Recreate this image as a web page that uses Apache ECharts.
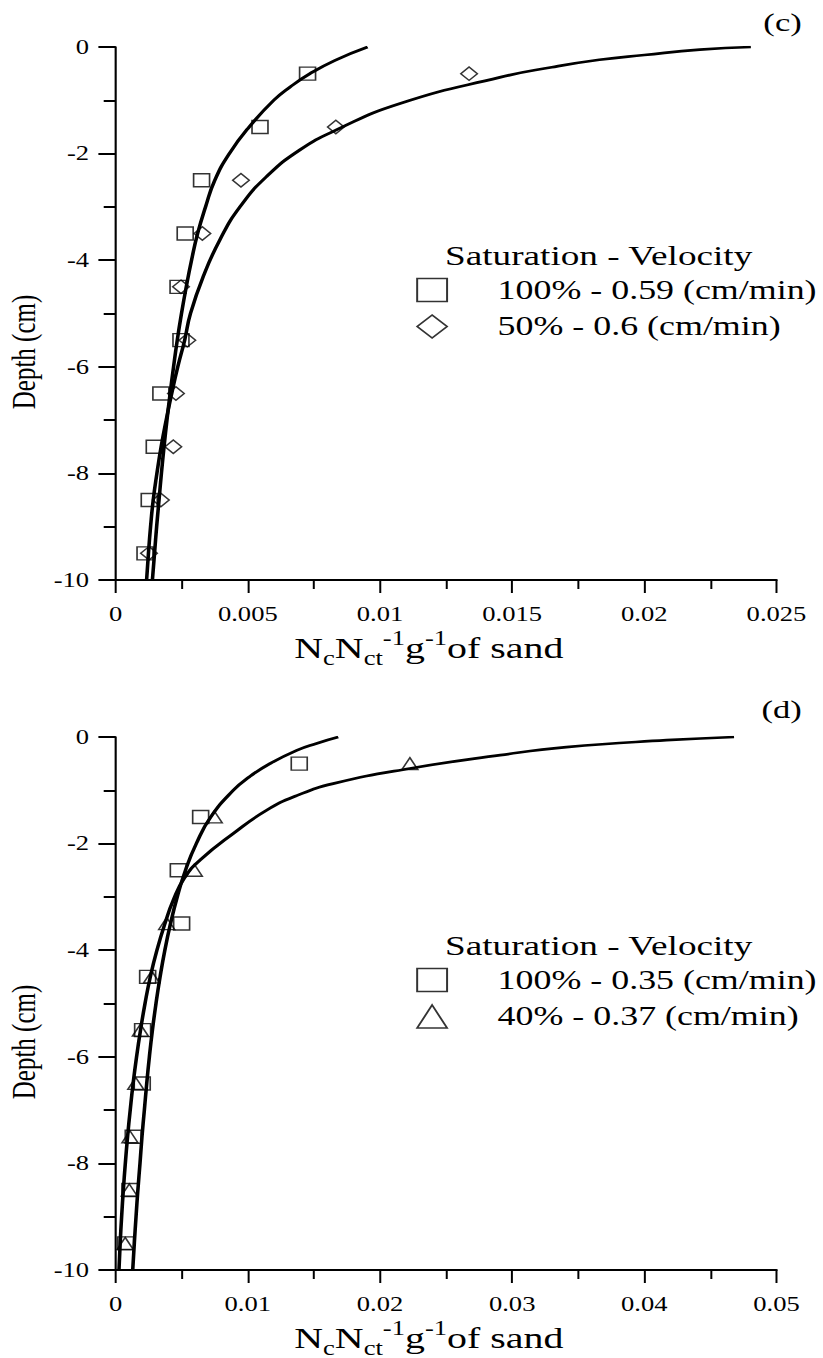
<!DOCTYPE html>
<html><head><meta charset="utf-8">
<script src="https://cdn.jsdelivr.net/npm/echarts@6/dist/echarts.min.js"></script>
<style>
html,body{margin:0;padding:0;background:#fff;overflow:hidden;}
#wrap{width:823px;height:1358px;overflow:hidden;background:#fff;}
#chart{width:619px;height:1358px;transform:scaleX(1.3296);transform-origin:0 0;}
</style></head><body><div id="wrap"><div id="chart"></div></div>
<script>
// ---------- data ----------
const depthLevels = [-0.5, -1.5, -2.5, -3.5, -4.5, -5.5, -6.5, -7.5, -8.5, -9.5];

// panel (c)
const nameC100 = '100% - 0.59 (cm/min)';
const nameC50 = '50% - 0.6 (cm/min)';
const sat100c = [0.00726, 0.00546, 0.00325, 0.00263, 0.00236, 0.00247, 0.00171, 0.00146, 0.00127, 0.00111];
const sat50c  = [0.01337, 0.00833, 0.00474, 0.00328, 0.00247, 0.00271, 0.00228, 0.00218, 0.00171, 0.00126];
const fit100c = [[0.00953,0],[0.0083,-0.25],[0.00735,-0.5],[0.0066,-0.75],[0.00598,-1.0],[0.00505,-1.5],
  [0.0043,-2.0],[0.00375,-2.5],[0.0034,-3.0],[0.0031,-3.5],[0.00287,-4.0],[0.00267,-4.5],[0.00249,-5.0],
  [0.00233,-5.5],[0.00219,-6.0],[0.00206,-6.5],[0.00194,-7.0],[0.00183,-7.5],[0.00173,-8.0],[0.00164,-8.5],
  [0.00155,-9.0],[0.00147,-9.5],[0.00139,-10]];
const fit50c = [[0.02403,0],[0.0221,-0.05],[0.02,-0.15],[0.0183,-0.24],[0.0165,-0.38],[0.01453,-0.57],
  [0.01076,-1.06],[0.00833,-1.56],[0.00697,-1.93],[0.00571,-2.43],[0.0047,-3.0],[0.00394,-3.62],[0.00331,-4.31],
  [0.00283,-5.0],[0.00261,-5.5],[0.00235,-6.0],[0.00212,-6.5],[0.00191,-7.0],[0.00172,-7.5],[0.00156,-8.0],
  [0.00142,-8.5],[0.00132,-9.0],[0.00124,-9.5],[0.00117,-10]];

// panel (d)
const nameD100 = '100% - 0.35 (cm/min)';
const nameD40 = '40% - 0.37 (cm/min)';
const sat100d = [0.01389, 0.00643, 0.00474, 0.00499, 0.00242, 0.00204, 0.00201, 0.00133, 0.00108, 0.00076];
const sat40d  = [0.02226, 0.00746, 0.00595, 0.00386, 0.00272, 0.00187, 0.00152, 0.00108, 0.00103, 0.00072];
const fit100d = [[0.01684,0],[0.0152,-0.12],[0.0137,-0.25],[0.01167,-0.5],[0.0101,-0.75],[0.0089,-1.0],
  [0.0072,-1.5],[0.0061,-2.0],[0.00528,-2.5],[0.00466,-3.0],[0.00415,-3.5],[0.00372,-4.0],[0.00336,-4.5],
  [0.00305,-5.0],[0.00278,-5.5],[0.00255,-6.0],[0.00235,-6.5],[0.00217,-7.0],[0.00199,-7.5],[0.00184,-8.0],
  [0.00168,-8.5],[0.00154,-9.0],[0.00141,-9.5],[0.00129,-10]];
const fit40d = [[0.04679,0],[0.04168,-0.06],[0.0341,-0.19],[0.0291,-0.34],[0.02226,-0.59],[0.01646,-0.875],
  [0.0137,-1.1],[0.01142,-1.375],[0.0089,-1.81],[0.00638,-2.31],[0.00524,-2.63],[0.00436,-3.06],[0.00373,-3.5],
  [0.00312,-4.0],[0.00262,-4.5],[0.00222,-5.0],[0.00188,-5.5],[0.00158,-6.0],[0.00132,-6.5],[0.0011,-7.0],
  [0.0009,-7.5],[0.00073,-8.0],[0.00058,-8.5],[0.00045,-9.0],[0.00034,-9.5],[0.00025,-10]];

// ticks
const xTicksC = [0, 0.005, 0.01, 0.015, 0.02, 0.025];
const xLabelsC = ['0', '0.005', '0.01', '0.015', '0.02', '0.025'];
const xTicksD = [0, 0.01, 0.02, 0.03, 0.04, 0.05];
const xLabelsD = ['0', '0.01', '0.02', '0.03', '0.04', '0.05'];
const yTicks = [-10, -8, -6, -4, -2, 0];
const yLabels = ['-10', '-8', '-6', '-4', '-2', '0'];

const legendTitle = 'Saturation - Velocity';
const panelC = '(c)', panelD = '(d)';
const yName = 'Depth (cm)';
const xNameRich = '{n|N}{sub|c}{n|N}{sub|ct}{sup|-1}{n|g}{sup|-1}{n|of sand}';

// ---------- helpers ----------
const FONT = '"Liberation Serif", "Times New Roman", serif';
function fmt(ticks, labels) {
  return v => { const i = ticks.findIndex(t => Math.abs(t - v) < 1e-9); return i >= 0 ? labels[i] : ''; };
}
function xAxisCfg(gi, ticks, labels) {
  return {
    type: 'value', gridIndex: gi,
    min: ticks[0], max: ticks[ticks.length - 1], interval: ticks[1] - ticks[0],
    name: xNameRich, nameLocation: 'middle', nameGap: 48, nameMoveOverlap: false,
    nameTextStyle: {
      color: '#000', fontFamily: FONT, padding: [0, 26, 0, 0],
      rich: {
        n: { fontSize: 30, lineHeight: 40, fontFamily: FONT, color: '#000', verticalAlign: 'middle' },
        sub: { fontSize: 20, lineHeight: 25, fontFamily: FONT, color: '#000', verticalAlign: 'bottom' },
        sup: { fontSize: 20, lineHeight: 20, fontFamily: FONT, color: '#000', verticalAlign: 'top' }
      }
    },
    axisLine: { show: true, onZero: false, lineStyle: { color: '#000', width: 2 } },
    axisTick: { show: true, inside: false, length: 13, lineStyle: { color: '#000', width: 1.5 } },
    minorTick: { show: true, splitNumber: 2, length: 9, lineStyle: { color: '#000', width: 1.5 } },
    splitLine: { show: false }, minorSplitLine: { show: false },
    axisLabel: { show: true, margin: 24, color: '#000', fontFamily: FONT, fontSize: 20,
      showMinLabel: true, showMaxLabel: true, formatter: fmt(ticks, labels) }
  };
}
function yAxisCfg(gi) {
  return {
    type: 'value', gridIndex: gi,
    min: yTicks[0], max: yTicks[yTicks.length - 1], interval: yTicks[1] - yTicks[0],
    name: yName, nameLocation: 'middle', nameGap: 57, nameMoveOverlap: false,
    nameTextStyle: { color: '#000', fontFamily: FONT, fontSize: 25, lineHeight: 25, padding: [0, 77, 0, 0] },
    axisLine: { show: true, onZero: false, lineStyle: { color: '#000', width: 1.6 } },
    axisTick: { show: true, inside: false, length: 13, lineStyle: { color: '#000', width: 2 } },
    minorTick: { show: true, splitNumber: 2, length: 9, lineStyle: { color: '#000', width: 2 } },
    splitLine: { show: false }, minorSplitLine: { show: false },
    axisLabel: { show: true, margin: 20, color: '#000', fontFamily: FONT, fontSize: 20,
      showMinLabel: true, showMaxLabel: true, formatter: fmt(yTicks, yLabels) }
  };
}
function scatter(name, gi, xs, symbol, size) {
  return {
    type: 'scatter', name, xAxisIndex: gi, yAxisIndex: gi,
    data: depthLevels.map((d, i) => [xs[i], d]),
    symbol, symbolSize: size,
    itemStyle: { color: 'rgba(255,255,255,0)', borderColor: '#000', borderWidth: 1.3 },
    emphasis: { disabled: true }, z: 3
  };
}
function fitLine(gi, pts) {
  return {
    type: 'line', xAxisIndex: gi, yAxisIndex: gi, data: pts,
    showSymbol: false, symbol: 'none', smooth: 0.5, silent: true,
    lineStyle: { color: '#000', width: 2.7 }, emphasis: { disabled: true }, z: 4
  };
}
function legendCfg(top, names) {
  return {
    show: true, orient: 'vertical', left: 313, top, padding: 0,
    itemWidth: 22.5, itemHeight: 23, itemGap: 6.5, selectedMode: false,
    data: names,
    itemStyle: { color: 'rgba(255,255,255,0)', borderColor: '#000', borderWidth: 1.5 },
    textStyle: { color: '#000', fontFamily: FONT, fontSize: 27, lineHeight: 30, padding: [0, 0, 0, 33] }
  };
}
function txt(x, y, text, size, align) {
  return { type: 'text', x, y, silent: true,
    style: { text, fontSize: size, fontFamily: FONT, fill: '#000', align, verticalAlign: 'middle' } };
}

const chart = echarts.init(document.getElementById('chart'), null, { renderer: 'svg' });
chart.setOption({
  animation: false,
  backgroundColor: '#fff',
  grid: [
    { left: 87, right: 35, top: 47, height: 533, containLabel: false, outerBoundsMode: 'none' },
    { left: 87, right: 35, top: 737, height: 533, containLabel: false, outerBoundsMode: 'none' }
  ],
  xAxis: [xAxisCfg(0, xTicksC, xLabelsC), xAxisCfg(1, xTicksD, xLabelsD)],
  yAxis: [yAxisCfg(0), yAxisCfg(1)],
  legend: [legendCfg(275, [nameC100, nameC50]), legendCfg(965, [nameD100, nameD40])],
  tooltip: { show: false },
  graphic: [
    txt(603, 22, panelC, 26, 'right'),
    txt(603, 709, panelD, 26, 'right'),
    txt(334.7, 255.5, legendTitle, 28, 'left'),
    txt(334.7, 945.5, legendTitle, 28, 'left')
  ],
  series: [
    scatter(nameC100, 0, sat100c, 'rect', [12, 13]),
    scatter(nameC50, 0, sat50c, 'diamond', [12.5, 13.5]),
    fitLine(0, fit100c), fitLine(0, fit50c),
    scatter(nameD100, 1, sat100d, 'rect', [12, 13]),
    scatter(nameD40, 1, sat40d, 'triangle', [12, 12]),
    fitLine(1, fit100d), fitLine(1, fit40d)
  ]
});
</script></body></html>
